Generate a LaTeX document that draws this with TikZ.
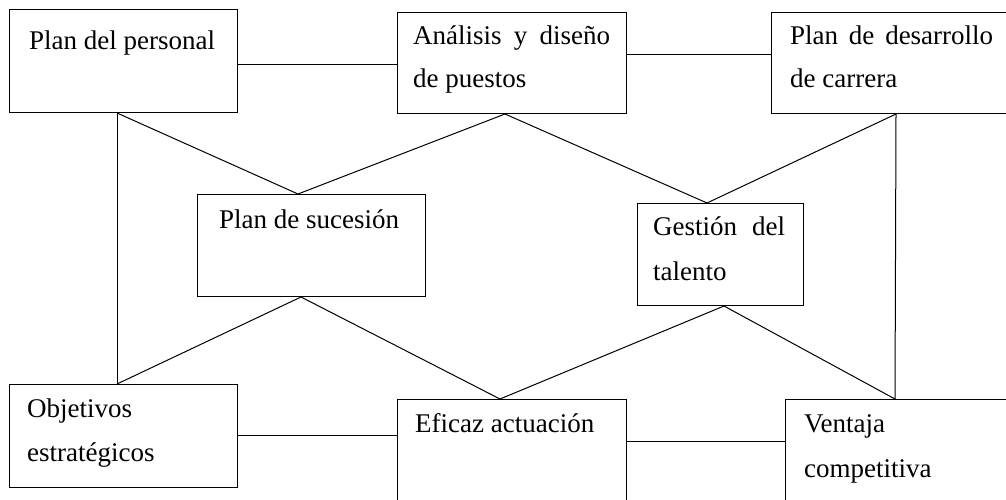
\documentclass[tikz,border=0pt]{standalone}
\usepackage{fontspec}
\setmainfont{Liberation Serif}
\begin{document}
\begin{tikzpicture}[x=1pt,y=-1pt,
  box/.style={draw,line width=1pt,inner sep=0pt,anchor=north west},
  lbl/.style={inner sep=0pt,anchor=base west,font=\fontsize{27}{32}\selectfont},
  conn/.style={line width=1pt}]
\useasboundingbox (0,0) rectangle (1006,500);
\clip (0,0) rectangle (1006,500);
% boxes
\node[box,minimum width=228pt,minimum height=103pt] (b1) at (9,9) {};
\node[box,minimum width=229pt,minimum height=101pt] (b2) at (397,12) {};
\node[box,minimum width=241pt,minimum height=101pt] (b3) at (771,12) {};
\node[box,minimum width=228pt,minimum height=102pt] (b4) at (197,194) {};
\node[box,minimum width=166pt,minimum height=102pt] (b5) at (637,203) {};
\node[box,minimum width=228pt,minimum height=103pt] (b6) at (9,384) {};
\node[box,minimum width=229pt,minimum height=111pt] (b7) at (397,399) {};
\node[box,minimum width=227pt,minimum height=111pt] (b8) at (785,399) {};
% texts
\node[lbl] (t1) at (29,50) {Plan del personal};
\node[lbl] (t2a) at (413,45) {\makebox[197pt][s]{Análisis y diseño}};
\node[lbl] (t2b) at (413,88) {de puestos};
\node[lbl] (t3a) at (790,45) {\makebox[203pt][s]{Plan de desarrollo}};
\node[lbl] (t3b) at (790,88) {de carrera};
\node[lbl] (t4) at (219,228) {Plan de sucesión};
\node[lbl] (t5a) at (653,235) {\makebox[132pt][s]{Gestión del}};
\node[lbl] (t5b) at (653,280) {talento};
\node[lbl] (t6a) at (27,417) {Objetivos};
\node[lbl] (t6b) at (27,461) {estratégicos};
\node[lbl] (t7) at (415,432) {Eficaz actuación};
\node[lbl] (t8a) at (804,432) {Ventaja};
\node[lbl] (t8b) at (804,477) {competitiva};
% attachment points
\coordinate (b1s) at ([xshift=108pt]b1.south west);
\coordinate (b2s) at ([xshift=108pt]b2.south west);
\coordinate (b3s) at ([xshift=125pt]b3.south west);
\coordinate (b4n) at ([xshift=101pt]b4.north west);
\coordinate (b4s) at ([xshift=104pt]b4.south west);
\coordinate (b5n) at ([xshift=70pt]b5.north west);
\coordinate (b5s) at ([xshift=87pt]b5.south west);
\coordinate (b6n) at ([xshift=108pt]b6.north west);
\coordinate (b7n) at ([xshift=103pt]b7.north west);
\coordinate (b8n) at ([xshift=110pt]b8.north west);
% connectors
\draw[conn] ([yshift=-56pt]b1.north east) -- ([yshift=-56pt]b1.north east -| b2.west);
\draw[conn] ([yshift=-43pt]b2.north east) -- ([yshift=-43pt]b2.north east -| b3.west);
\draw[conn] ([yshift=-51pt]b6.north east) -- ([yshift=-51pt]b6.north east -| b7.west);
\draw[conn] ([yshift=-42pt]b7.north east) -- ([yshift=-42pt]b7.north east -| b8.west);
\draw[conn] (b1s) -- (b6n);
\draw[conn] (b3s) -- (b8n);
\draw[conn] (b1s) -- (b4n) -- (b2s) -- (b5n) -- (b3s);
\draw[conn] (b6n) -- (b4s) -- (b7n) -- (b5s) -- (b8n);
\end{tikzpicture}
\end{document}
